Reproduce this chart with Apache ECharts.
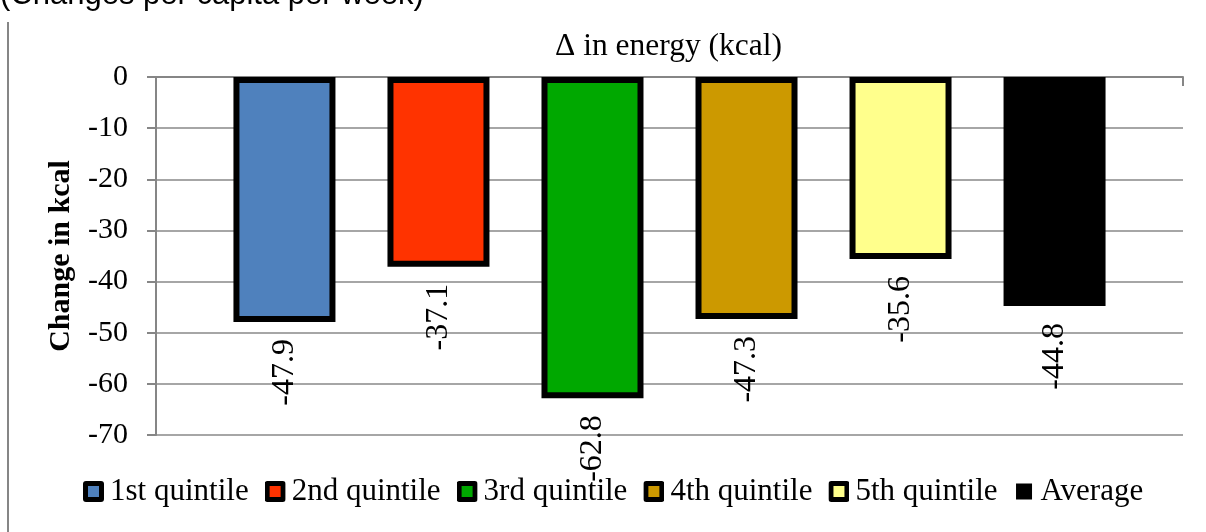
<!DOCTYPE html>
<html><head><meta charset="utf-8">
<script src="https://cdn.jsdelivr.net/npm/echarts@6/dist/echarts.min.js"></script>
<style>html,body{margin:0;padding:0;background:#fff}#c{width:1206px;height:532px}</style>
</head><body><div id="c"></div>
<script>
const categories = [''];
const seriesNames = ['1st quintile','2nd quintile','3rd quintile','4th quintile','5th quintile','Average'];
const seriesValues = [-47.9, -37.1, -62.8, -47.3, -35.6, -44.8];
const seriesColors = ['#4F81BD','#FF3300','#00A800','#CC9900','#FFFF8C','#000000'];
const yTicks = [0,-10,-20,-30,-40,-50,-60,-70];

const FONT = '"Liberation Serif", "Times New Roman", serif';
function legendIcon(color, plain){
  const svg = plain
    ? '<svg xmlns="http://www.w3.org/2000/svg" width="21" height="21"><rect x="2.5" y="2.5" width="16" height="16" fill="#000"/></svg>'
    : '<svg xmlns="http://www.w3.org/2000/svg" width="21" height="21"><rect x="0" y="0" width="21" height="21" rx="3" fill="#000"/><rect x="5" y="5" width="11" height="11" fill="'+color+'"/></svg>';
  return 'image://data:image/svg+xml;charset=utf-8,' + encodeURIComponent(svg);
}
const chart = echarts.init(document.getElementById('c'));
const series = seriesNames.map((n,i)=>({
  name:n, type:'bar', data:[seriesValues[i]],
  barWidth:102, barGap:'51%',
  itemStyle:{color:seriesColors[i], borderColor:'#000', borderWidth: n==='Average'?0:6},
  label:{show:true, position:'bottom', rotate:90, align:'right', verticalAlign:'middle', distance:17,
    fontFamily:FONT, fontSize:32, color:'#000', formatter:p=>p.value.toFixed(1)}
}));
chart.setOption({
  animation:false,
  title:{text:'Δ in energy (kcal)', left:550, top:26, textStyle:{fontFamily:FONT, fontSize:31.5, fontWeight:'normal', color:'#000'}},
  grid:{left:156, right:23, top:77, bottom:97},
  legend:{bottom:20, left:78, itemWidth:21, itemHeight:21, itemGap:16,
    textStyle:{fontFamily:FONT, fontSize:31, color:'#000', padding:[0,0,0,1]},
    data:seriesNames.map((n,i)=>({name:n, icon:legendIcon(seriesColors[i], n==='Average')}))},
  xAxis:{type:'category', data:categories, position:'bottom',
    axisLine:{onZero:true, lineStyle:{color:'#868686', width:2}},
    axisTick:{show:true, length:9, lineStyle:{color:'#868686', width:2}},
    axisLabel:{show:false}},
  yAxis:{type:'value', min:-70, max:0, interval:10,
    name:'Change in kcal', nameLocation:'middle', nameGap:80, nameRotate:90,
    nameTextStyle:{fontFamily:FONT, fontSize:30, fontWeight:'bold', color:'#000'},
    axisLine:{show:true, lineStyle:{color:'#868686', width:2}},
    axisTick:{show:true, length:9, lineStyle:{color:'#868686', width:2}},
    axisLabel:{fontFamily:FONT, fontSize:30, color:'#000', margin:28},
    splitLine:{lineStyle:{color:'#A6A6A6', width:2}}},
  graphic:[
    {type:'text', left:0, top:-20, style:{text:'(Changes per capita per week)', font:'31px "Liberation Sans", Arial, sans-serif', fill:'#000'}},
    {type:'line', shape:{x1:8, y1:22, x2:8, y2:532}, style:{stroke:'#868686', lineWidth:2}}
  ],
  series:series
});
</script></body></html>
